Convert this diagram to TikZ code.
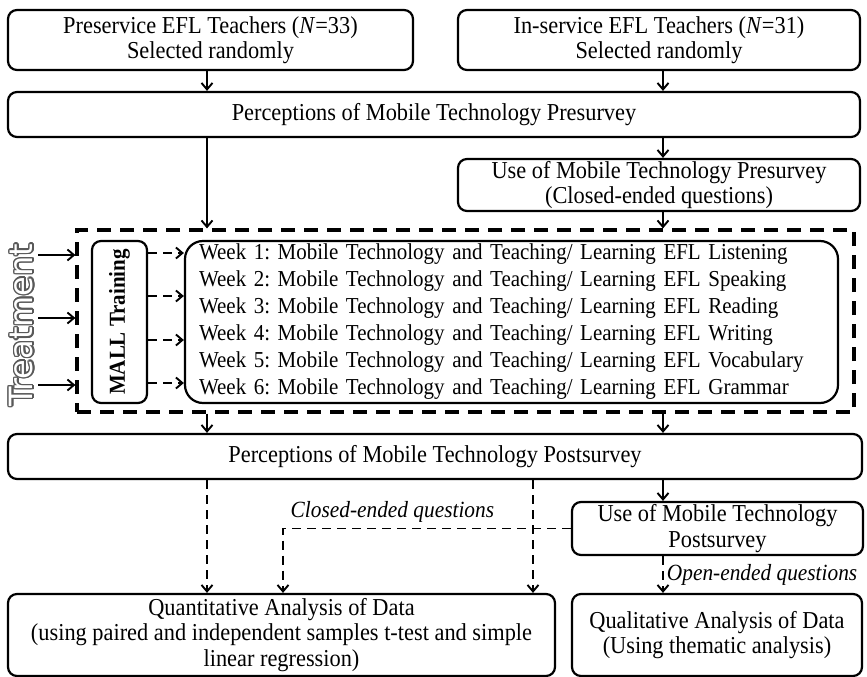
\documentclass[tikz,border=0pt]{standalone}
\usepackage{fontspec}
\setmainfont{Liberation Serif}[FakeStretch=0.92]
\newfontfamily\treatfont{DejaVu Sans}
\usepackage{contour}
\contourlength{1.4pt}
\usetikzlibrary{arrows.meta,calc}
\newcommand\mainfs{\fontsize{24.3}{25.5}\selectfont}
\newcommand\weekfs{\fontsize{22.8}{27}\selectfont}
\newcommand\labfs{\fontsize{23.2}{25}\selectfont\itshape}
\frenchspacing
\begin{document}
\begin{tikzpicture}[x=1pt,y=-1pt,
  box/.style={draw, line width=2.2pt, rounded corners=9pt, inner sep=0pt, align=center, font=\mainfs},
  arr/.style={line width=1.9pt, -{Straight Barb[length=6.5pt,width=11pt,line width=1.9pt]}},
  darr/.style={arr, dash pattern=on 9pt off 6pt},
  treatbox/.style={draw, line width=3.2pt, dash pattern=on 14pt off 9pt},
  lab/.style={font=\labfs, inner sep=2pt}
]
\useasboundingbox (0,0) rectangle (867,677);

% top row
\node[box, minimum width=405pt, minimum height=60pt] (pre) at (210.5,40)
  {Preservice EFL Teachers (\textit{N}=33)\\Selected randomly};
\node[box, minimum width=402pt, minimum height=60pt] (ins) at (659,40)
  {In-service EFL Teachers (\textit{N}=31)\\Selected randomly};
\node[box, minimum width=852pt, minimum height=45pt] (presurv) at (434,114.5)
  {Perceptions of Mobile Technology Presurvey};
\node[box, minimum width=402pt, minimum height=52pt] (usepre) at (659,185)
  {Use of Mobile Technology Presurvey\\(Closed-ended questions)};

% treatment block
\node[treatbox, minimum width=777pt, minimum height=182pt] (treat) at (465.5,321) {};
\node[box, rotate=90, minimum width=162pt, minimum height=55pt, font=\fontsize{22.8}{25}\selectfont\bfseries] (mall) at (119.5,322) {MALL Training};
\node[box, rounded corners=18pt, minimum width=653pt, minimum height=162pt, text width=625pt, align=left, font=\weekfs] (weeks) at (511.5,322)
  {Week 1: Mobile Technology and Teaching/ Learning EFL Listening\\
   Week 2: Mobile Technology and Teaching/ Learning EFL Speaking\\
   Week 3: Mobile Technology and Teaching/ Learning EFL Reading\\
   Week 4: Mobile Technology and Teaching/ Learning EFL Writing\\
   Week 5: Mobile Technology and Teaching/ Learning EFL Vocabulary\\
   Week 6: Mobile Technology and Teaching/ Learning EFL Grammar};
\node[rotate=90, font=\treatfont\fontsize{32}{32}\selectfont, inner sep=0pt] (tlabel) at (22,325)
  {\contour{black!65}{\textcolor{white}{Treatment}}};

% lower part
\node[box, minimum width=854pt, minimum height=45pt] (postsurv) at (435,456.5)
  {Perceptions of Mobile Technology Postsurvey};
\node[box, minimum width=291pt, minimum height=53pt] (usepost) at (717.5,528.5)
  {Use of Mobile Technology\\Postsurvey};
\node[box, minimum width=547pt, minimum height=82pt] (quant) at (281.5,635)
  {Quantitative Analysis of Data\\(using paired and independent samples t-test and simple\\linear regression)};
\node[box, minimum width=290pt, minimum height=82pt] (qual) at (717,635)
  {Qualitative Analysis of Data\\(Using thematic analysis)};

% helper coordinates
\coordinate (xa) at (207,0);
\coordinate (xb) at (663,0);
\coordinate (xc) at (533,0);
\coordinate (xd) at (283,0);
\coordinate (t1) at (38,255);
\coordinate (t2) at (38,318);
\coordinate (t3) at (38,385);
\coordinate (m1) at (0,253);
\coordinate (m2) at (0,296);
\coordinate (m3) at (0,340);
\coordinate (m4) at (0,383);

% connectors
\draw[arr] (pre.south -| xa) -- (presurv.north -| xa);
\draw[arr] (ins.south -| xb) -- (presurv.north -| xb);
\draw[arr] (presurv.south -| xa) -- (treat.north -| xa);
\draw[arr] (presurv.south -| xb) -- (usepre.north -| xb);
\draw[arr] (usepre.south -| xb) -- (treat.north -| xb);
\draw[arr] (t1) -- (treat.west |- t1);
\draw[arr] (t2) -- (treat.west |- t2);
\draw[arr] (t3) -- (treat.west |- t3);
\foreach \m in {m1,m2,m3,m4}
  \draw[darr] (mall.south |- \m) -- (weeks.west |- \m);
\draw[arr] (treat.south -| xa) -- (postsurv.north -| xa);
\draw[arr] (treat.south -| xb) -- (postsurv.north -| xb);
\draw[darr] (postsurv.south -| xa) -- (quant.north -| xa);
\draw[darr] (postsurv.south -| xc) -- (quant.north -| xc);
\draw[arr] (postsurv.south -| xb) -- (usepost.north -| xb);
\draw[darr] (usepost.west) -| node[pos=0.31, above, lab, yshift=3pt] {Closed-ended questions} (quant.north -| xd);
\draw[darr] (usepost.south -| xb) -- node[right, lab, xshift=1pt] {Open-ended questions} (qual.north -| xb);
\end{tikzpicture}
\end{document}
